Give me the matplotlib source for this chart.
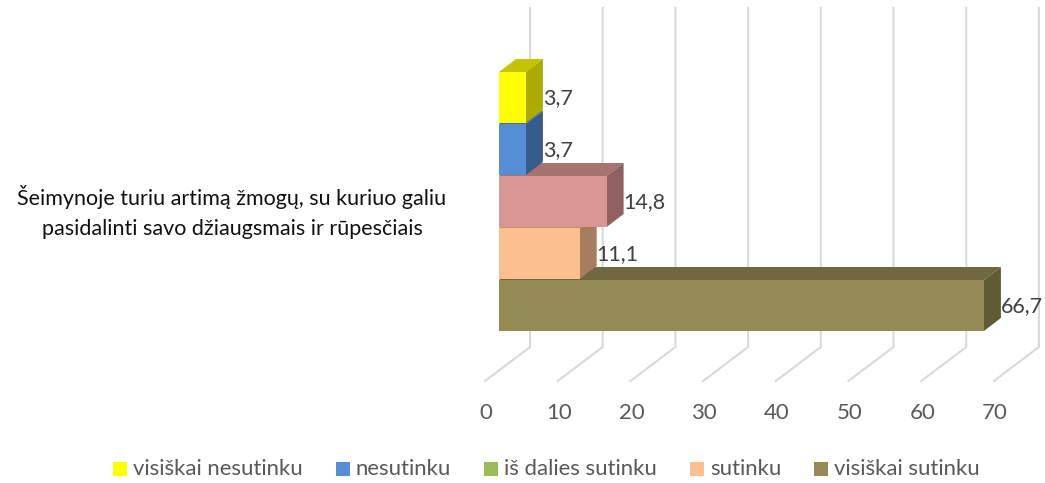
import matplotlib
matplotlib.use("Agg")
import matplotlib.pyplot as plt
from matplotlib.patches import Polygon, Rectangle

plt.rcParams['font.family'] = ['Lato', 'DejaVu Sans']

# data
category = "Šeimynoje turiu artimą žmogų, su kuriuo galiu\npasidalinti savo džiaugsmais ir rūpesčiais"
series = ["visiškai nesutinku", "nesutinku", "iš dalies sutinku", "sutinku", "visiškai sutinku"]
values = [3.7, 3.7, 14.8, 11.1, 66.7]
value_labels = ["3,7", "3,7", "14,8", "11,1", "66,7"]
ticks = [0, 10, 20, 30, 40, 50, 60, 70]

# front, side, top colours for the bars (third bar is pink in the picture, green in legend)
front = ["#FFFF00", "#558ED5", "#D99694", "#FCC08F", "#948A54"]
side = ["#ABAB00", "#355C8C", "#8F6160", "#A67E5E", "#615A37"]
top = ["#C4C400", "#3F6CA3", "#A67371", "#BF9270", "#706840"]
legend_colors = ["#FFFF00", "#558ED5", "#9BBB59", "#FCC08F", "#948A54"]

W, H = 1045, 483
PX = 7.27      # pixels per unit
X0 = 499       # pixel of value 0 on the bar front
DX_BAR, DY_BAR = 17 / PX, 13
BAR_TOPS = [72, 124, 176, 228, 280]
BAR_H = 51

fig = plt.figure(figsize=(W / 100, H / 100), dpi=100)
ax = fig.add_axes([0, 0, 1, 1])
ax.set_xlim(-X0 / PX, (W - X0) / PX)
ax.set_ylim(H, 0)
ax.axis('off')

# gridlines: back wall plus floor diagonal
GX = 31 / PX
FX = -14 / PX
for t in ticks:
    ax.plot([t + GX, t + GX, t + FX], [8, 347, 381], color="#D9D9D9", lw=1.5, zorder=1,
            solid_joinstyle='miter')
    ax.text(t + FX + 1 / PX, 413, str(t), ha='center', va='center', fontsize=16, color="#595959")

# lower bars first so the bar above hides their top face
for i, v in enumerate(values):
    y0 = BAR_TOPS[i]
    y1 = y0 + BAR_H
    z = 10 - i
    ax.add_patch(Polygon([(0, y0), (DX_BAR, y0 - DY_BAR), (v + DX_BAR, y0 - DY_BAR), (v, y0)],
                         fc=top[i], ec='none', zorder=z))
    ax.add_patch(Polygon([(v, y0), (v + DX_BAR, y0 - DY_BAR), (v + DX_BAR, y1 - DY_BAR), (v, y1)],
                         fc=side[i], ec='none', zorder=z))
    ax.add_patch(Rectangle((0, y0), v, BAR_H, fc=front[i], ec='none', zorder=z))
    ax.text(v + DX_BAR, (y0 + y1) / 2 + 1, value_labels[i], ha='left', va='center',
            fontsize=15.5, color="#404040", zorder=20)

ax.text((232 - X0) / PX, 212, category, ha='center', va='center', fontsize=15.5, color="#111111",
        linespacing=1.62)

# legend
patch_px = [113, 336, 484, 690, 814]
for name, c, px in zip(series, legend_colors, patch_px):
    ax.add_patch(Rectangle(((px - X0) / PX, 462), 14 / PX, 14, fc=c, ec='none'))
    ax.text((px + 20 - X0) / PX, 469, name, ha='left', va='center', fontsize=15.9, color="#595959")

fig.savefig("out.png", dpi=100)
